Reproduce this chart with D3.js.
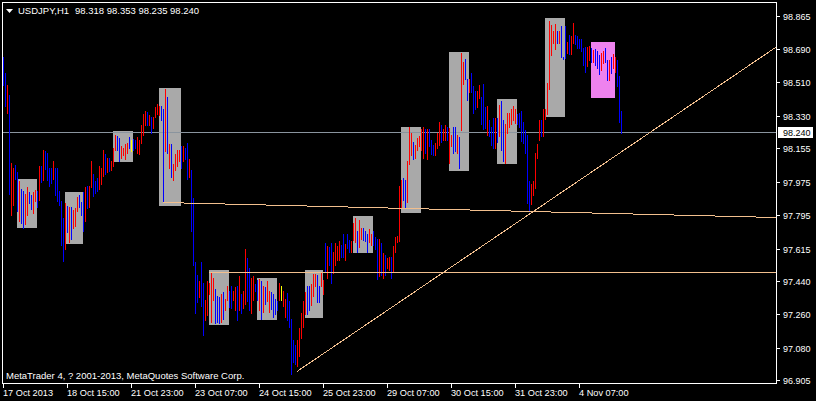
<!DOCTYPE html>
<html><head><meta charset="utf-8">
<script src="https://cdn.jsdelivr.net/npm/d3@7"></script>
<style>html,body{margin:0;padding:0;background:#000;}svg{display:block;}</style>
</head><body>
<script>
// ---- data ----
const symbolTitle = "USDJPY,H1";
const lastOHLC = ["98.318", "98.353", "98.235", "98.240"];
const bidPrice = 98.240;
const copyright = "MetaTrader 4, ? 2001-2013, MetaQuotes Software Corp.";

const barHigh = [
98.644,98.558,98.498,98.444,98.073,98.051,98.067,98.025,97.977,97.933,
97.923,97.906,97.944,97.917,97.901,97.917,97.928,97.923,98.062,98.057,
98.148,98.138,98.127,98.051,98.046,98.089,98.051,98.051,97.923,97.869,
97.782,97.858,97.842,97.836,97.836,97.820,97.831,97.890,97.901,97.863,
97.917,97.944,97.950,97.950,98.089,98.014,97.977,97.993,98.057,98.046,
98.143,98.122,98.105,98.100,98.089,98.154,98.229,98.219,98.208,98.165,
98.159,98.176,98.181,98.213,98.197,98.203,98.197,98.213,98.197,98.278,
98.337,98.353,98.348,98.332,98.321,98.326,98.375,98.391,98.380,98.380,
98.369,98.472,98.429,98.176,98.176,98.068,98.122,98.143,98.143,98.165,
98.165,98.159,98.181,98.095,98.036,97.885,97.540,97.475,97.438,97.540,
97.432,97.336,97.438,97.432,97.481,97.459,97.395,97.357,97.352,97.368,
97.379,97.341,97.411,97.389,97.416,97.389,97.406,97.416,97.465,97.368,
97.384,97.610,97.562,97.508,97.454,97.465,97.422,97.443,97.449,97.438,
97.411,97.406,97.438,97.389,97.379,97.368,97.341,97.330,97.427,97.416,
97.389,97.341,97.373,97.330,97.233,97.120,97.093,97.120,97.185,97.266,
97.330,97.379,97.411,97.416,97.422,97.476,97.476,97.470,97.416,97.481,
97.443,97.643,97.626,97.621,97.643,97.594,97.643,97.626,97.653,97.632,
97.696,97.637,97.691,97.659,97.653,97.755,97.782,97.712,97.766,97.728,
97.723,97.712,97.691,97.718,97.691,97.707,97.675,97.669,97.664,97.643,
97.589,97.578,97.562,97.572,97.572,97.626,97.675,97.680,97.950,97.982,
97.993,97.982,98.084,98.267,98.235,98.186,98.170,98.208,98.219,98.256,
98.267,98.256,98.256,98.256,98.197,98.170,98.181,98.235,98.299,98.278,
98.256,98.278,98.267,98.262,98.224,98.267,98.267,98.229,98.213,98.666,
98.617,98.633,98.526,98.526,98.558,98.488,98.466,98.461,98.493,98.429,
98.499,98.375,98.380,98.305,98.267,98.316,98.316,98.316,98.386,98.407,
98.305,98.283,98.343,98.343,98.369,98.380,98.369,98.337,98.343,98.353,
98.299,98.251,98.229,97.977,97.960,97.977,98.132,98.176,98.305,98.305,
98.364,98.364,98.504,98.838,98.816,98.789,98.822,98.784,98.784,98.811,
98.644,98.811,98.725,98.763,98.757,98.827,98.763,98.757,98.746,98.741,
98.693,98.698,98.698,98.703,98.693,98.682,98.687,98.676,98.655,98.666,
98.676,98.693,98.628,98.628,98.649,98.660,98.649,98.628,98.542,98.353];

const barLow = [
98.493,98.381,98.343,97.906,97.798,97.847,97.987,97.815,97.761,97.755,
97.728,97.745,97.793,97.858,97.826,97.809,97.869,97.836,97.874,97.971,
97.982,98.041,97.982,97.950,97.966,97.987,97.901,97.869,97.847,97.632,
97.546,97.610,97.702,97.648,97.664,97.723,97.734,97.815,97.836,97.798,
97.712,97.761,97.831,97.836,97.944,97.896,97.912,97.923,97.933,97.960,
98.003,98.014,98.025,98.030,98.036,98.057,98.143,98.148,98.089,98.105,
98.116,98.095,98.127,98.154,98.138,98.143,98.154,98.132,98.122,98.181,
98.229,98.278,98.278,98.278,98.235,98.262,98.321,98.337,98.332,98.305,
97.863,98.138,98.132,98.051,97.998,97.982,98.036,98.062,98.089,98.051,
98.089,98.095,97.987,97.998,97.712,97.524,97.266,97.325,97.352,97.303,
97.147,97.228,97.255,97.368,97.217,97.336,97.212,97.217,97.212,97.217,
97.233,97.282,97.336,97.298,97.293,97.336,97.282,97.228,97.282,97.266,
97.293,97.314,97.330,97.282,97.266,97.336,97.384,97.336,97.282,97.233,
97.276,97.314,97.330,97.271,97.287,97.249,97.260,97.282,97.336,97.336,
97.303,97.244,97.228,97.190,96.937,97.002,96.991,96.980,97.034,97.131,
97.190,97.260,97.260,97.282,97.309,97.362,97.416,97.325,97.325,97.411,
97.368,97.486,97.454,97.529,97.432,97.481,97.529,97.551,97.551,97.572,
97.567,97.551,97.616,97.599,97.599,97.659,97.648,97.599,97.621,97.669,
97.659,97.653,97.599,97.648,97.632,97.632,97.610,97.449,97.465,97.470,
97.459,97.470,97.508,97.497,97.459,97.486,97.599,97.648,97.653,97.831,
97.879,97.831,97.863,98.068,98.116,98.095,98.105,98.143,98.165,98.143,
98.105,98.132,98.095,98.165,98.122,98.116,98.116,98.159,98.170,98.186,
98.197,98.197,98.197,98.078,98.165,98.132,98.138,98.127,98.051,98.251,
98.499,98.526,98.413,98.456,98.456,98.343,98.364,98.375,98.423,98.283,
98.256,98.262,98.224,98.219,98.170,98.159,98.159,98.186,98.219,98.143,
98.089,98.073,98.235,98.267,98.283,98.305,98.289,98.283,98.267,98.192,
98.181,98.132,97.858,97.820,97.853,97.901,97.939,98.100,98.197,98.219,
98.219,98.310,98.337,98.472,98.655,98.720,98.687,98.720,98.720,98.644,
98.633,98.639,98.666,98.660,98.660,98.720,98.714,98.693,98.693,98.676,
98.606,98.563,98.596,98.628,98.617,98.617,98.606,98.585,98.553,98.579,
98.612,98.622,98.520,98.520,98.558,98.585,98.563,98.488,98.299,98.235];

// u = bull (red), d = bear (blue), y = doji (yellow)
const barType = (
"dduduuddud"+"duudduudud"+"uddddudddd"+"dududuuudd"+"duduuddduu"+
"ududuuuddu"+"uuudydduuu"+"uududuuuud"+"dududuuuud"+"udduddddud"+
"duuuuudddu"+"duudduudud"+"uudduuddud"+"uduudddduy"+"uuddddduuu"+
"uudduuuddu"+"ududduuuud"+"dudduuuduu"+"ddduudddud"+"uduuduuuuu"+
"dduuuduuuu"+"ududdduuud"+"uuduuddudu"+"udduddduud"+"ddudddudud"+
"duuuuuuddd"+"dddduuuuud"+"uuuuuuudud"+"dduduudddd"+"dduududddu"+
"udduduuddd").split("");

// boxes: [first bar, last bar, top price, bottom price, colour]
const boxStart = [7, 31, 55, 78, 103, 127, 151, 175, 199, 223, 247, 271, 294];
const boxEnd   = [17, 40, 65, 89, 113, 137, 160, 185, 209, 233, 257, 281, 306];
const boxTop   = [97.987, 97.917, 98.246, 98.477, 97.497, 97.454, 97.497, 97.788, 98.272, 98.671, 98.418, 98.854, 98.725];
const boxBot   = [97.723, 97.642, 98.079, 97.842, 97.201, 97.228, 97.239, 97.589, 97.804, 98.030, 98.068, 98.326, 98.423];
const boxKind  = ["g","g","g","g","g","g","g","g","g","g","g","g","v"];

// trend lines (rays): [bar1, price1, bar2, price2]
const trendLines = [
  [80, 97.863, 387, 97.782],
  [103, 97.486, 387, 97.486],
  [147, 96.953, 387, 98.703]
];

const yTickLabels = ["98.865","98.690","98.510","98.330","98.155","97.975","97.795","97.615","97.440","97.260","97.080","96.905"];
const xTickBars   = [0, 32, 64, 96, 128, 160, 192, 224, 256, 288];
const xTickLabels = ["17 Oct 2013","18 Oct 15:00","21 Oct 23:00","23 Oct 07:00","24 Oct 15:00","25 Oct 23:00","29 Oct 07:00","30 Oct 15:00","31 Oct 23:00","4 Nov 07:00"];

// ---- drawing ----
const W = 816, H = 401;
const L = 2, R = 776, T = 2, B = 383;
const FONT = "'Liberation Sans', Arial, sans-serif";
const COL = {u: "#ff0000", d: "#0000ff", y: "#ffff00"};
const LINE = "#f2bf8e";

const svg = d3.select("body").append("svg").attr("width", W).attr("height", H)
  .style("background", "#000").attr("shape-rendering", "crispEdges");

const x = d3.scaleLinear().domain([0, 387]).range([3, 777]);
const y = d3.scaleLinear().domain([96.905, 98.865]).range([380.4, 16.4]);

svg.append("defs").append("clipPath").attr("id", "plot")
  .append("rect").attr("x", L + 1).attr("y", T + 1).attr("width", R - L - 1).attr("height", B - T - 1);
const g = svg.append("g").attr("clip-path", "url(#plot)");

// boxes
g.selectAll("rect.box").data(boxStart.map((s, k) => k)).join("rect")
  .attr("class", "box")
  .attr("x", k => x(boxStart[k]))
  .attr("width", k => x(boxEnd[k]) - x(boxStart[k]))
  .attr("y", k => Math.round(y(boxTop[k])))
  .attr("height", k => Math.round(y(boxBot[k])) - Math.round(y(boxTop[k])))
  .attr("fill", k => boxKind[k] === "v" ? "#ee82ee" : "#a9a9a9");

// bid line
g.append("line").attr("x1", L).attr("x2", R).attr("y1", Math.round(y(bidPrice)) + 0.5).attr("y2", Math.round(y(bidPrice)) + 0.5)
  .attr("stroke", "#8a949e").attr("stroke-width", 1);

// bars
g.selectAll("rect.bar").data(barHigh.map((h, i) => i)).join("rect")
  .attr("class", "bar")
  .attr("x", i => x(i))
  .attr("width", 1)
  .attr("y", i => Math.round(y(barHigh[i])))
  .attr("height", i => Math.max(1, Math.round(y(barLow[i])) - Math.round(y(barHigh[i])) + 1))
  .attr("fill", i => COL[barType[i]]);

// trend lines
g.selectAll("line.trend").data(trendLines).join("line")
  .attr("class", "trend")
  .attr("x1", d => x(d[0])).attr("y1", d => y(d[1]))
  .attr("x2", d => x(d[2])).attr("y2", d => y(d[3]))
  .attr("stroke", LINE).attr("stroke-width", 1).attr("shape-rendering", "crispEdges");

// frame
svg.append("rect").attr("x", L + 0.5).attr("y", T + 0.5).attr("width", R - L).attr("height", B - T)
  .attr("fill", "none").attr("stroke", "#ffffff").attr("stroke-width", 1);

// y axis
const ya = svg.append("g");
yTickLabels.forEach(t => {
  const yy = Math.round(y(+t)) + 0.5;
  ya.append("line").attr("x1", R + 1).attr("x2", R + 4).attr("y1", yy).attr("y2", yy).attr("stroke", "#fff");
  ya.append("text").attr("x", R + 7).attr("y", yy + 3.5).text(t)
    .attr("fill", "#fff").attr("font-family", FONT).attr("font-size", "9px");
});

// x axis
const xa = svg.append("g");
xTickBars.forEach((b, k) => {
  const xx = x(b) + 0.5;
  xa.append("line").attr("x1", xx).attr("x2", xx).attr("y1", B + 1).attr("y2", B + 5).attr("stroke", "#fff");
  xa.append("text").attr("x", x(b)).attr("y", 396).text(xTickLabels[k])
    .attr("fill", "#fff").attr("font-family", FONT).attr("font-size", "9.2px");
});

// bid price label
const by = Math.round(y(bidPrice));
svg.append("rect").attr("x", R + 2).attr("y", by - 5).attr("width", 35).attr("height", 11).attr("fill", "#fff");
svg.append("text").attr("x", R + 7).attr("y", by + 3.5).text(bidPrice.toFixed(3))
  .attr("fill", "#000").attr("font-family", FONT).attr("font-size", "9px");

// title
svg.append("path").attr("d", "M6,9 L13,9 L9.5,13 Z").attr("fill", "#fff").attr("shape-rendering", "auto");
svg.append("text").attr("x", 18).attr("y", 14).text(symbolTitle)
  .attr("fill", "#fff").attr("font-family", FONT).attr("font-size", "9.5px");
svg.append("text").attr("x", 75).attr("y", 14).text(lastOHLC.join(" "))
  .attr("fill", "#fff").attr("font-family", FONT).attr("font-size", "9.5px");

// copyright
svg.append("text").attr("x", 6).attr("y", 379).text(copyright)
  .attr("fill", "#fff").attr("font-family", FONT).attr("font-size", "9.5px");
</script>
</body></html>
